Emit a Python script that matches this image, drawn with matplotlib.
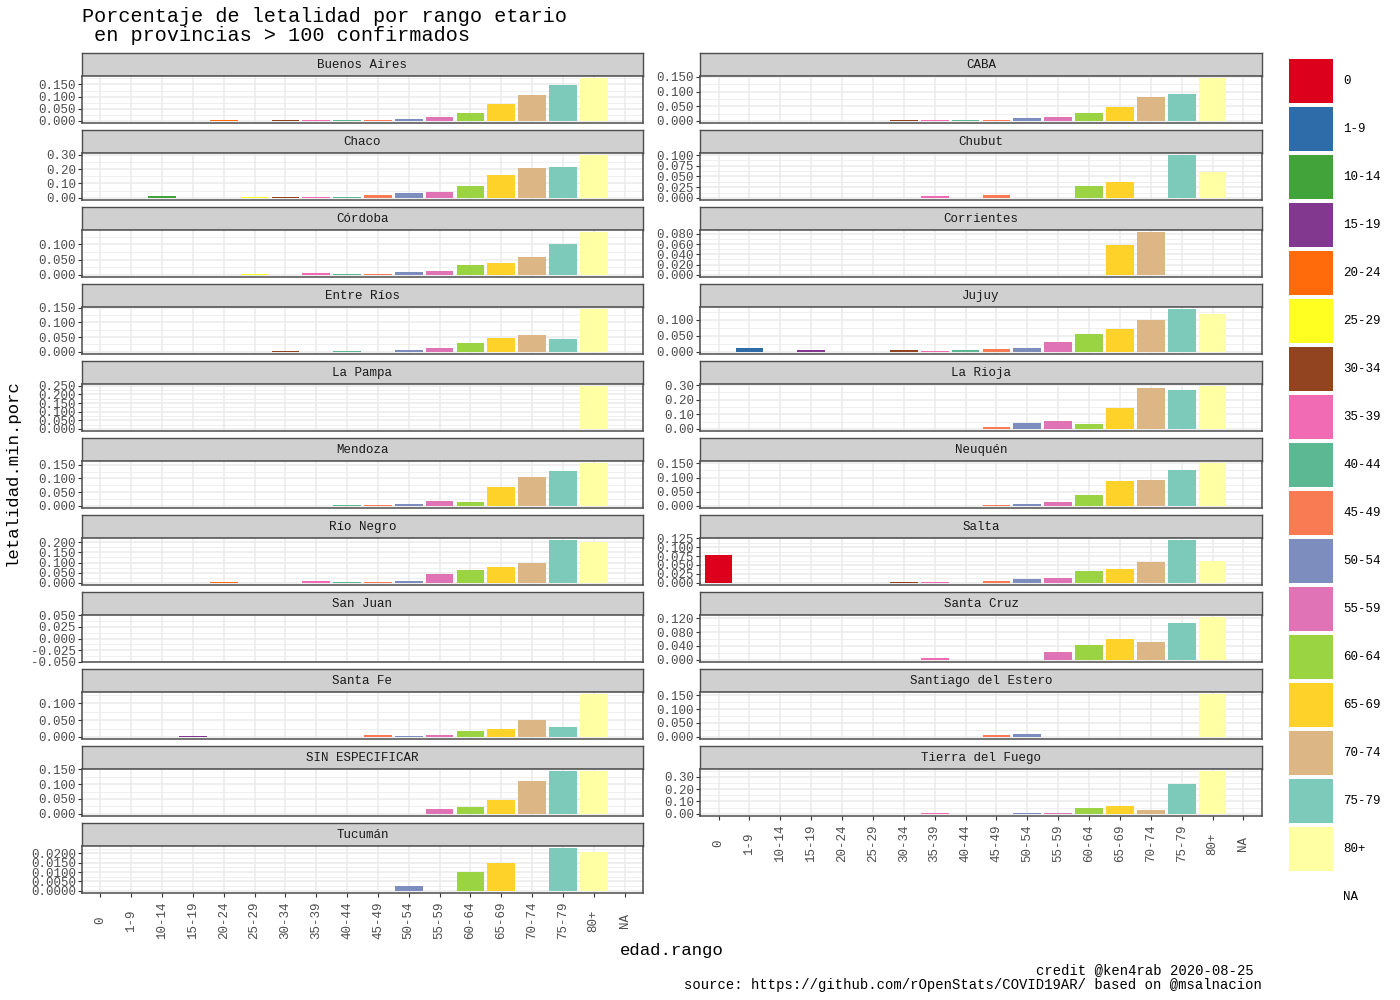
import matplotlib
matplotlib.use("Agg")
import matplotlib.pyplot as plt
from matplotlib.patches import Patch
import numpy as np

plt.rcParams['font.family'] = ['Liberation Mono', 'DejaVu Sans Mono']

nan = np.nan

rangos = ["0", "1-9", "10-14", "15-19", "20-24", "25-29", "30-34", "35-39",
          "40-44", "45-49", "50-54", "55-59", "60-64", "65-69", "70-74",
          "75-79", "80+", "NA"]

colores = ["#DC001C", "#2D6BA9", "#42A33B", "#83388F", "#FF6A0B", "#FFFF22",
           "#92431F", "#F06BB3", "#5BB893", "#F87B53", "#7C8DBE", "#DF73B6",
           "#9AD443", "#FFD22A", "#DCB684", "#7ECABA", "#FFFFA3", "#FFFFFF"]

provincias = ["Buenos Aires", "CABA", "Chaco", "Chubut", "Córdoba", "Corrientes",
              "Entre Ríos", "Jujuy", "La Pampa", "La Rioja", "Mendoza", "Neuquén",
              "Río Negro", "Salta", "San Juan", "Santa Cruz", "Santa Fe",
              "Santiago del Estero", "SIN ESPECIFICAR", "Tierra del Fuego", "Tucumán"]

# letalidad por rango etario (mismo orden que `rangos`, nan = sin dato)
letalidad = {
    "Buenos Aires": [0.0012, 0.0012, nan, 0.0012, 0.0015, 0.0012, 0.0018, 0.0015, 0.003,
                     0.004, 0.0086, 0.017, 0.034, 0.069, 0.107, 0.147, 0.176, nan],
    "CABA": [nan, nan, nan, nan, nan, 0.001, 0.0015, 0.0024, 0.0024, 0.0024, 0.0096,
             0.013, 0.0276, 0.049, 0.0815, 0.092, 0.146, nan],
    "Chaco": [nan, nan, 0.0096, nan, nan, 0.003, 0.006, 0.008, 0.005, 0.017, 0.031,
              0.038, 0.082, 0.156, 0.211, 0.218, 0.297, nan],
    "Chubut": [nan, nan, nan, nan, nan, nan, nan, 0.0049, nan, 0.0073, nan, nan,
               0.0268, 0.0365, nan, 0.100, 0.0617, nan],
    "Córdoba": [nan, nan, nan, nan, nan, 0.003, nan, 0.0067, 0.003, 0.003, 0.010,
                0.013, 0.033, 0.040, 0.060, 0.100, 0.140, nan],
    "Corrientes": [nan, nan, nan, nan, nan, nan, nan, nan, nan, nan, nan, nan, nan,
                   0.0588, 0.0833, nan, nan, nan],
    "Entre Ríos": [nan, nan, nan, nan, nan, nan, 0.0024, nan, 0.0024, nan, 0.006,
                   0.013, 0.031, 0.046, 0.056, 0.042, 0.145, nan],
    "Jujuy": [nan, 0.012, nan, 0.0055, nan, nan, 0.0055, 0.002, 0.0055, 0.0088, 0.012,
              0.032, 0.055, 0.071, 0.101, 0.134, 0.118, nan],
    "La Pampa": [nan, nan, nan, nan, nan, nan, nan, nan, nan, nan, nan, nan, nan, nan,
                 nan, nan, 0.248, nan],
    "La Rioja": [nan, nan, nan, nan, nan, nan, nan, 0.002, nan, 0.0096, 0.038, 0.053,
                 0.031, 0.146, 0.283, 0.269, 0.293, nan],
    "Mendoza": [nan, nan, nan, nan, nan, 0.001, nan, nan, 0.0026, 0.0026, 0.0064,
                0.018, 0.014, 0.068, 0.106, 0.126, 0.156, nan],
    "Neuquén": [nan, nan, nan, nan, nan, nan, nan, nan, nan, 0.0025, 0.0062, 0.0136,
                0.0397, 0.088, 0.092, 0.125, 0.151, nan],
    "Río Negro": [nan, nan, nan, nan, 0.0034, nan, 0.0017, 0.0086, 0.0034, 0.0034,
                  0.0086, 0.045, 0.0655, 0.076, 0.0966, 0.210, 0.200, nan],
    "Salta": [0.0785, nan, nan, nan, nan, nan, 0.003, 0.003, nan, 0.0058, 0.0116,
              0.0145, 0.032, 0.0378, 0.058, 0.1195, 0.062, nan],
    "San Juan": [0.0, 0.0, 0.0, 0.0, 0.0, 0.0, 0.0, 0.0, 0.0, 0.0, 0.0, 0.0, 0.0, 0.0,
                 0.0, 0.0, 0.0, nan],
    "Santa Cruz": [nan, nan, nan, nan, nan, nan, nan, 0.005, nan, nan, nan, 0.0234,
                   0.0417, 0.060, 0.051, 0.106, 0.123, nan],
    "Santa Fe": [nan, nan, nan, 0.002, nan, 0.001, nan, nan, nan, 0.005, 0.002, 0.005,
                 0.0177, 0.024, 0.052, 0.030, 0.128, nan],
    "Santiago del Estero": [nan, nan, nan, nan, nan, nan, nan, nan, nan, 0.006, 0.010,
                            nan, nan, nan, nan, nan, 0.154, nan],
    "SIN ESPECIFICAR": [nan, nan, nan, nan, nan, nan, nan, nan, nan, nan, nan, 0.0174,
                        0.0244, 0.045, 0.1116, 0.1435, 0.1435, nan],
    "Tierra del Fuego": [nan, nan, nan, nan, nan, nan, nan, 0.004, nan, nan, 0.004,
                         0.004, 0.051, 0.0595, 0.034, 0.238, 0.345, nan],
    "Tucumán": [nan, nan, nan, nan, nan, nan, nan, nan, nan, nan, 0.0028, nan, 0.010,
                0.015, nan, 0.0228, 0.0206, nan],
}

# paso de las marcas del eje y en cada panel
paso_y = {"Buenos Aires": 0.05, "CABA": 0.05, "Chaco": 0.1, "Chubut": 0.025,
          "Córdoba": 0.05, "Corrientes": 0.02, "Entre Ríos": 0.05, "Jujuy": 0.05,
          "La Pampa": 0.05, "La Rioja": 0.1, "Mendoza": 0.05, "Neuquén": 0.05,
          "Río Negro": 0.05, "Salta": 0.025, "San Juan": 0.025, "Santa Cruz": 0.04,
          "Santa Fe": 0.05, "Santiago del Estero": 0.05, "SIN ESPECIFICAR": 0.05,
          "Tierra del Fuego": 0.1, "Tucumán": 0.005}

titulo = "Porcentaje de letalidad por rango etario\n en provincias > 100 confirmados"
credito = "credit @ken4rab 2020-08-25 "
fuente = "source: https://github.com/rOpenStats/COVID19AR/ based on @msalnacion"

# LAYOUT (pixels)
W, H = 1400, 1000
col_x = [82, 700]
col_w = [561, 562]
y0 = 53
paso_fila = 77
alto_strip = 23
alto_panel = 47
borde = "#4D4D4D"
gris_grid = "#EBEBEB"


def fig_rect(x, y, w, h):
    return [x / W, 1 - (y + h) / H, w / W, h / H]


fig = plt.figure(figsize=(14, 10), dpi=100)
xs = np.arange(len(rangos))
col_arr = np.array(colores)
n = len(provincias)
# ultimo panel de cada columna (lleva las etiquetas del eje x)
ultimo = {(n - 1) % 2: n - 1, n % 2: n - 2}

for k, prov in enumerate(provincias):
    fila, col = divmod(k, 2)
    x0, w = col_x[col], col_w[col]
    top = y0 + fila * paso_fila

    # strip
    sax = fig.add_axes(fig_rect(x0, top, w, alto_strip))
    sax.set_facecolor("#D0D0D0")
    sax.set_xticks([])
    sax.set_yticks([])
    for s in sax.spines.values():
        s.set_color(borde)
        s.set_linewidth(1.0)
    sax.text(0.5, 0.48, prov, ha="center", va="center", fontsize=9,
             color="#1A1A1A", transform=sax.transAxes)

    # panel
    ax = fig.add_axes(fig_rect(x0, top + alto_strip, w, alto_panel))
    vals = np.array(letalidad[prov], dtype=float)
    ok = ~np.isnan(vals)
    ax.bar(xs[ok], vals[ok], width=0.9, color=col_arr[ok], zorder=3)

    vmax = np.nanmax(vals)
    if vmax > 0:
        lo, hi = -0.05 * vmax, 1.05 * vmax
    else:
        lo, hi = -0.0505, 0.0505
    ax.set_ylim(lo, hi)
    ax.set_xlim(-0.6, len(rangos) - 0.4)

    step = paso_y[prov]
    dec = int(-np.floor(np.log10(step))) + 1
    n0, n1 = int(np.ceil(lo / step - 1e-6)), int(np.floor(hi / step + 1e-6))
    majors = np.round(np.arange(n0, n1 + 1) * step, 6)
    minors = np.round(np.arange(n0 - 1, n1 + 1) * step + step / 2, 6)
    minors = minors[(minors > lo) & (minors < hi)]
    ax.set_yticks(majors)
    ax.set_yticklabels([f"{v:.{dec}f}" for v in majors])
    ax.set_yticks(minors, minor=True)
    ax.set_xticks(xs)

    ax.grid(which="major", color=gris_grid, linewidth=1.1, zorder=0)
    ax.grid(which="minor", axis="y", color=gris_grid, linewidth=0.55, zorder=0)
    ax.set_axisbelow(True)
    for s in ax.spines.values():
        s.set_color(borde)
        s.set_linewidth(1.1)
        s.set_zorder(4)

    ax.tick_params(axis="y", which="major", length=2.9, width=0.8, color="#333333",
                   labelsize=9, labelcolor="#4D4D4D", pad=1.5)
    ax.tick_params(axis="y", which="minor", length=0)

    if k == ultimo[col]:
        ax.set_xticklabels(rangos, rotation=90, va="center", ha="center")
        ax.tick_params(axis="x", length=2.9, width=0.8, color="#333333",
                       labelsize=9, labelcolor="#4D4D4D", pad=17)
    else:
        ax.tick_params(axis="x", length=0, labelbottom=False)

# textos
fig.text(82 / W, 1 - 7 / H, titulo, ha="left", va="top", fontsize=14.5,
         linespacing=1.0)
fig.text(12 / W, 1 - 473 / H, "letalidad.min.porc", rotation=90, ha="center",
         va="center", fontsize=12.5)
fig.text(672 / W, 1 - 950 / H, "edad.rango", ha="center", va="center", fontsize=12.5)
fig.text(1262 / W, 1 - 970 / H, credito, ha="right", va="center", fontsize=10)
fig.text(1262 / W, 1 - 985 / H, fuente, ha="right", va="center", fontsize=10)

# leyenda: claves de 44x44 px separadas 48 px
fs = 9
px = fs * 100 / 72
alto_clave = 44 / px
handles = [Patch(facecolor=c, edgecolor="none") for c in colores[:-1]]
handles.append(Patch(facecolor="none", edgecolor="none"))
fig.legend(handles, rangos, loc="upper left", bbox_to_anchor=(1289 / W, 1 - 59 / H),
           frameon=False, fontsize=fs, handlelength=alto_clave,
           handleheight=(alto_clave - 0.245) / 0.65,
           labelspacing=4 / px, handletextpad=10 / px, borderpad=0, borderaxespad=0)

fig.savefig("out.png", dpi=100)
